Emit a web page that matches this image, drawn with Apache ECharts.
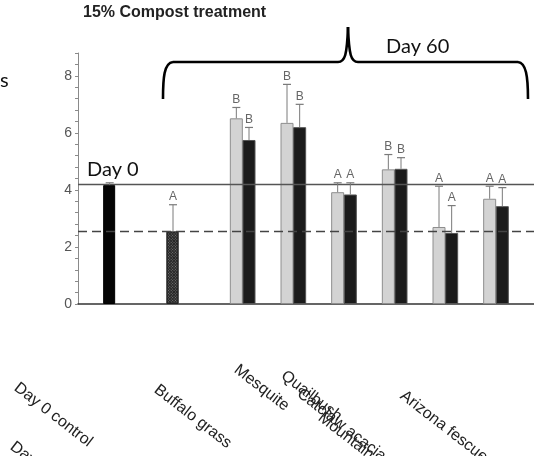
<!DOCTYPE html>
<html>
<head>
<meta charset="utf-8">
<script src="https://cdn.jsdelivr.net/npm/echarts@6/dist/echarts.min.js"></script>
<style>
  html, body { margin: 0; padding: 0; background: #fff; }
  #chart { width: 534px; height: 456px; }
</style>
</head>
<body>
<div id="chart"></div>
<script>
// values
const day0Mean = 4.17;
const day0Top = 4.25;
const buffaloMean = 2.54;
const buffaloTop = 3.48;
const buffaloLetter = "A";
const grayMeans = [6.51, 6.35, 3.92, 4.72, 2.7, 3.69];
const grayTops = [6.89, 7.7, 4.25, 5.24, 4.13, 4.13];
const grayLetters = ["B", "B", "A", "B", "A", "A"];
const blackMeans = [5.75, 6.2, 3.84, 4.74, 2.49, 3.43];
const blackTops = [6.19, 7.0, 4.25, 5.13, 3.45, 4.08];
const blackLetters = ["B", "B", "A", "B", "A", "A"];
const day0Line = 4.2;
const buffaloLine = 2.56;
const yTickLabels = [0, 2, 4, 6, 8];
const xLabels = ["Day 0 control", "Buffalo grass", "Mesquite", "Quailbush",
  "Catclaw acacia", "Mountain mahogany", "Arizona fescue", "Day 0"];

// layout: which slot of the category axis each bar sits in
const nSlots = 36;
const day0Slot = 2;
const buffaloSlot = 7;
const pairSlots = [12, 16, 20, 24, 28, 32];
// where the (rotated) axis texts start
const xLabelPos = [[16, 386], [156, 388], [236, 368], [283, 374],
  [299, 392], [320, 416], [402, 394], [12, 445]];

const slots = [];
for (let i = 0; i < nSlots; i++) slots.push(String(i));

const emptyArr = () => new Array(nSlots).fill("-");
const day0Data = emptyArr();
day0Data[day0Slot] = day0Mean;
const buffaloData = emptyArr();
buffaloData[buffaloSlot] = buffaloMean;
const grayData = emptyArr();
const blackData = emptyArr();
pairSlots.forEach((s, i) => {
  grayData[s] = grayMeans[i];
  blackData[s + 1] = blackMeans[i];
});

// error bars: [slot, mean, top, letter]
const errData = [[day0Slot, day0Mean, day0Top, ""], [buffaloSlot, buffaloMean, buffaloTop, buffaloLetter]];
pairSlots.forEach((s, i) => {
  errData.push([s, grayMeans[i], grayTops[i], grayLetters[i]]);
  errData.push([s + 1, blackMeans[i], blackTops[i], blackLetters[i]]);
});

const chart = echarts.init(document.getElementById("chart"));

const renderErr = (params, api) => {
  const slot = api.value(0);
  const base = api.coord([slot, api.value(1)]);
  const top = api.coord([slot, api.value(2)]);
  const letter = errData[params.dataIndex][3];
  const col = "#7a7a7a";
  const children = [
    { type: "line", shape: { x1: base[0], y1: base[1], x2: top[0], y2: top[1] },
      style: { stroke: col, lineWidth: 1 } },
    { type: "line", shape: { x1: top[0] - 4, y1: top[1], x2: top[0] + 4, y2: top[1] },
      style: { stroke: col, lineWidth: 1.2 } },
  ];
  if (letter) {
    children.push({ type: "text", x: top[0], y: top[1] - 2,
      style: { text: letter, fill: "#666", font: "12px 'Liberation Sans', Arial",
        align: "center", verticalAlign: "bottom" } });
  }
  return { type: "group", children };
};

const rot = -0.66;
const labelGraphics = xLabels.map((t, i) => ({
  type: "text", x: xLabelPos[i][0], y: xLabelPos[i][1], rotation: rot,
  style: { text: t, fill: "#222", font: "16px 'Liberation Sans', Arial",
    align: "left", verticalAlign: "middle" },
}));

// the curly brace over the Day 60 bars
const braceStyle = { stroke: "#000", lineWidth: 2.6, fill: null };
const brace = [
  { type: "bezierCurve", shape: { x1: 163, y1: 99, cpx1: 163, cpy1: 78, cpx2: 164, cpy2: 63, x2: 173, y2: 62 }, style: braceStyle },
  { type: "line", shape: { x1: 173, y1: 62, x2: 338, y2: 62 }, style: braceStyle },
  { type: "bezierCurve", shape: { x1: 338, y1: 62, cpx1: 345, cpy1: 62, cpx2: 347, cpy2: 55, x2: 348, y2: 27 }, style: braceStyle },
  { type: "bezierCurve", shape: { x1: 348, y1: 27, cpx1: 349, cpy1: 55, cpx2: 351, cpy2: 62, x2: 358, y2: 62 }, style: braceStyle },
  { type: "line", shape: { x1: 358, y1: 62, x2: 518, y2: 62 }, style: braceStyle },
  { type: "bezierCurve", shape: { x1: 518, y1: 62, cpx1: 526, cpy1: 63, cpx2: 528, cpy2: 76, x2: 528, y2: 99 }, style: braceStyle },
];

const option = {
  animation: false,
  grid: { left: 78, right: -9, top: 53, bottom: 152 },
  xAxis: {
    type: "category",
    data: slots,
    axisLine: { lineStyle: { color: "#333", width: 1.5 } },
    axisTick: { show: false },
    axisLabel: { show: false },
  },
  yAxis: {
    type: "value",
    min: 0,
    max: 8.8,
    interval: 0.4,
    splitLine: { show: false },
    axisLine: { show: true, lineStyle: { color: "#8a8a8a" } },
    axisTick: { show: true, length: 3, lineStyle: { color: "#8a8a8a" } },
    axisLabel: {
      margin: 6,
      color: "#555",
      fontSize: 14,
      fontFamily: "Liberation Sans",
      formatter: (v) => {
        const hit = yTickLabels.find((t) => Math.abs(t - v) < 1e-6);
        return hit === undefined ? "" : String(hit);
      },
    },
  },
  graphic: [
    { type: "text", x: 83, y: 13,
      style: { text: "15% Compost treatment", fill: "#222",
        font: "bold 16px 'Liberation Sans', Arial", verticalAlign: "middle" } },
    { type: "text", x: 386, y: 47,
      style: { text: "Day 60", fill: "#111", font: "20px Lato", verticalAlign: "middle" } },
    { type: "text", x: 87, y: 170,
      style: { text: "Day 0", fill: "#111", font: "20px Lato", verticalAlign: "middle" } },
    { type: "text", x: 0, y: 81,
      style: { text: "s", fill: "#111", font: "20px Lato", verticalAlign: "middle" } },
    ...brace,
    ...labelGraphics,
  ],
  series: [
    {
      name: "Day 0 control",
      type: "bar",
      data: day0Data,
      barWidth: 12,
      barGap: "-100%",
      itemStyle: { color: "#050505", borderColor: "#000", borderWidth: 1 },
    },
    {
      name: "Buffalo grass",
      type: "bar",
      data: buffaloData,
      barWidth: 12,
      barGap: "-100%",
      itemStyle: {
        color: "#262626",
        borderColor: "#222",
        borderWidth: 1,
        decal: { symbol: "rect", symbolSize: 1, color: "#777",
          dashArrayX: [1, 1], dashArrayY: [1, 1], rotation: 0.785 },
      },
    },
    {
      name: "Gray",
      type: "bar",
      data: grayData,
      barWidth: 13,
      barGap: "-100%",
      itemStyle: { color: "#d3d3d3", borderColor: "#8e8e8e", borderWidth: 1 },
    },
    {
      name: "Black",
      type: "bar",
      data: blackData,
      barWidth: 13,
      barGap: "-100%",
      itemStyle: { color: "#1b1b1b", borderColor: "#555", borderWidth: 1 },
    },
    {
      name: "err",
      type: "custom",
      data: errData.map((d) => [d[0], d[1], d[2]]),
      renderItem: renderErr,
      z: 5,
      markLine: {
        silent: true,
        symbol: "none",
        label: { show: false },
        data: [
          { yAxis: day0Line, lineStyle: { type: "solid", color: "#555", width: 1.3 } },
          { yAxis: buffaloLine, lineStyle: { type: [9, 5], color: "#444", width: 1.3 } },
        ],
      },
    },
  ],
};

chart.setOption(option);
</script>
</body>
</html>
